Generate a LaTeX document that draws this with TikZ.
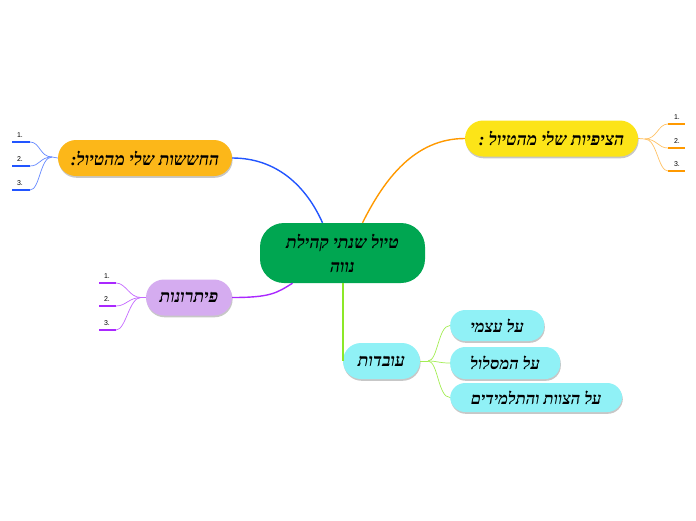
\documentclass[tikz,border=0pt]{standalone}
\usepackage{fontspec}
\newfontfamily\hebfont[Script=Hebrew]{Liberation Serif}
\newfontfamily\numfont{Liberation Sans}
\TeXXeTstate=1
\usetikzlibrary{positioning,shadows}

\definecolor{centergreen}{RGB}{0,166,81}
\definecolor{fearorange}{RGB}{252,183,25}
\definecolor{hopeyellow}{RGB}{252,228,24}
\definecolor{solvepurple}{RGB}{213,172,240}
\definecolor{factcyan}{RGB}{144,241,246}
\definecolor{lineblue}{RGB}{34,85,255}
\definecolor{lineorange}{RGB}{255,153,0}
\definecolor{linepurple}{RGB}{170,40,255}
\definecolor{linegreen}{RGB}{140,232,40}

\tikzset{
    topic/.style={
           rectangle,
           rounded corners=18pt,
           minimum height=36pt,
           inner sep=2pt,
           text centered,
           font=\hebfont\bfseries\itshape\fontsize{17.5}{19}\selectfont,
           drop shadow={shadow xshift=0.6pt, shadow yshift=-1.8pt,
                        fill=black, opacity=0.22},
           },
    subtopic/.style={
           topic,
           rounded corners=15pt,
           minimum height=30pt,
           anchor=west,
           fill=factcyan,
           font=\hebfont\bfseries\itshape\fontsize{16.5}{18}\selectfont,
           },
    num/.style={font=\numfont\fontsize{7}{8}\selectfont, inner sep=1pt, anchor=south},
    branch/.style={line width=1.4pt},
    twig/.style={line width=0.7pt},
    stub/.style={line width=2.4pt},
}

\begin{document}
\begin{tikzpicture}[x=1pt,y=-1pt]

 % frame of the page, same as the reference
 \useasboundingbox (0,0) rectangle (696,520);

 % the main topic in the middle
 \node[rectangle, rounded corners=24pt, fill=centergreen,
  minimum width=165pt, minimum height=60pt, align=center,
  font=\hebfont\bfseries\itshape\fontsize{17.5}{24}\selectfont] (Trip) at (342.5,253)
 {\beginR טיול שנתי קהילת\endR\\\beginR נווה\endR};

 % the four topics round it
 \node[topic, fill=fearorange, minimum width=174pt] (Fears) at (145,158)
 {\beginR החששות שלי מהטיול:\endR};
 \node[topic, fill=hopeyellow, minimum width=173pt] (Hopes) at (551.5,138.5)
 {\beginR הציפיות שלי מהטיול :\endR};
 \node[topic, fill=solvepurple, minimum width=86pt] (Solutions) at (189,297.5)
 {\beginR פיתרונות\endR};
 \node[topic, fill=factcyan, minimum width=77pt] (Facts) at (381.5,361)
 {\beginR עובדות\endR};

 % the facts, one box each
 \node[subtopic, minimum width=94pt, minimum height=31pt] (Self) at (450,325.5)
 {\beginR על עצמי\endR};
 \node[subtopic, minimum width=110pt, minimum height=32pt] (Route) at (450,363)
 {\beginR על המסלול\endR};
 \node[subtopic, minimum width=172pt, minimum height=29pt] (Staff) at (450,397.5)
 {\beginR על הצוות והתלמידים\endR};

 % main branches from the middle
 \draw[branch, lineblue] (Fears.east) .. controls +(45,0) and +(-16,-36) .. ([xshift=-20pt]Trip.north);
 \draw[branch, lineorange] ([xshift=20pt]Trip.north) .. controls +(22,-44) and +(-50,0) .. (Hopes.west);
 \draw[branch, linepurple] ([xshift=-50pt]Trip.south) .. controls +(-16,10) and +(38,0) .. (Solutions.east);
 \draw[branch, linegreen] (Trip.south -| Facts.west) -- (Facts.west);

 % the numbered points of each topic
 \coordinate (Fears hub) at (52,157);
 \coordinate (Hopes hub) at (645,139);
 \coordinate (Solutions hub) at (141,297.5);
 \coordinate (Facts hub) at (428,361);
 \draw[twig, lineblue!70] (Fears.west) -- (Fears hub);
 \draw[twig, lineorange!70] (Hopes.east) -- (Hopes hub);
 \draw[twig, linepurple!70] (Solutions.west) -- (Solutions hub);
 \draw[twig, linegreen!80] (Facts.east) -- (Facts hub);

 \foreach \i/\y in {1/142,2/166,3/190} {
  \coordinate (Fears \i) at (30,\y);
  \coordinate (Fears \i end) at (12,\y);
  \draw[twig, lineblue!70] (Fears hub) .. controls +(-12,0) and +(10,0) .. (Fears \i);
  \draw[stub, lineblue] (Fears \i) -- (Fears \i end);
  \node[num] (Fears \i num) at (20,\y-3) {\i.};
 }
 \foreach \i/\y in {1/124,2/148,3/171} {
  \coordinate (Hopes \i) at (668,\y);
  \coordinate (Hopes \i end) at (685,\y);
  \draw[twig, lineorange!60] (Hopes hub) .. controls +(12,0) and +(-10,0) .. (Hopes \i);
  \draw[stub, lineorange] (Hopes \i) -- (Hopes \i end);
  \node[num] (Hopes \i num) at (677,\y-3) {\i.};
 }
 \foreach \i/\y in {1/283,2/306,3/330} {
  \coordinate (Solutions \i) at (116,\y);
  \coordinate (Solutions \i end) at (99,\y);
  \draw[twig, linepurple!70] (Solutions hub) .. controls +(-12,0) and +(10,0) .. (Solutions \i);
  \draw[stub, linepurple] (Solutions \i) -- (Solutions \i end);
  \node[num] (Solutions \i num) at (107,\y-3) {\i.};
 }

 % the facts hang on their own hub
 \draw[twig, linegreen!80] (Facts hub) .. controls +(10,0) and +(-12,0) .. (Self.west);
 \draw[twig, linegreen!80] (Facts hub) .. controls +(10,0) and +(-12,0) .. (Route.west);
 \draw[twig, linegreen!80] (Facts hub) .. controls +(10,0) and +(-12,0) .. (Staff.west);

\end{tikzpicture}
\end{document}
